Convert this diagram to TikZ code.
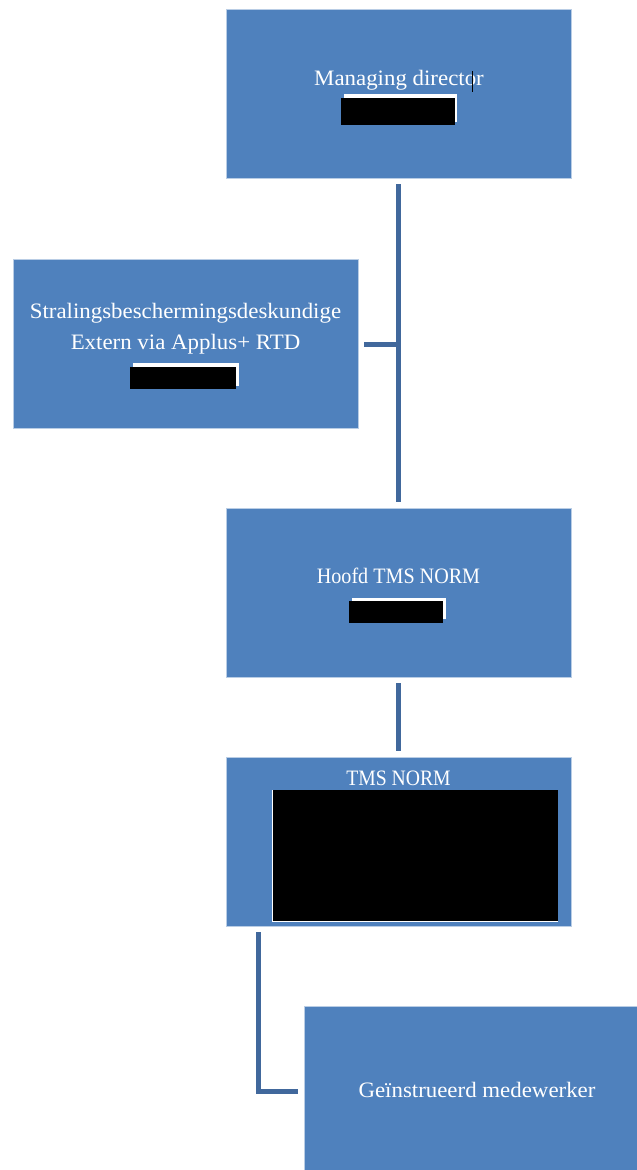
\documentclass[tikz,border=0pt]{standalone}
\usepackage{fontspec}
\setmainfont[FakeStretch=1.04]{Liberation Serif}
\definecolor{boxblue}{RGB}{79,129,189}
\definecolor{boxedge}{RGB}{185,205,229}
\definecolor{linkblue}{RGB}{65,104,156}
\tikzset{
  orgbox/.style={draw=boxedge, line width=1pt, fill=boxblue, inner sep=0pt, minimum width=345pt, minimum height=169pt},
  lbl/.style={text=white, font=\fontsize{22}{26}\selectfont, anchor=base, inner sep=0pt},
  link/.style={draw=linkblue, line width=5pt},
  redact/.style={fill=black},
  rim/.style={fill=white}
}
\begin{document}
\begin{tikzpicture}[x=1pt,y=-1pt]
\useasboundingbox (0,0) rectangle (637,1170);
\clip (0,0) rectangle (637,1170);
% boxes
\node[orgbox] (md) at (398.5,94) {};
\node[orgbox] (sbd) at (185.5,343.5) {};
\node[orgbox] (hoofd) at (398.5,592.5) {};
\node[orgbox] (tms) at (398.5,841.5) {};
\node[orgbox, minimum width=333pt] (gm) at (470.5,1090.5) {};
% texts
\node[lbl] (tmd) at (399,85) {Managing director};
\node[lbl] (ts1) at (185.5,318) {Stralingsbeschermingsdeskundige};
\node[lbl] (ts2) at (185.5,349) {Extern via Applus+ RTD};
\node[lbl] (th) at (398.5,583) {\scalebox{0.88}[1]{Hoofd TMS NORM}};
\node[lbl] (tt) at (398.5,785) {\scalebox{0.86}[1]{TMS NORM}};
\node[lbl] (tg) at (477,1097) {Geïnstrueerd medewerker};
% redactions
\fill[rim] (344,94) rectangle (457,122);
\fill[redact] (341,98) rectangle (455,125);
\draw[black, line width=1pt] (472,71) -- (472,92);
\fill[rim] (133,363) rectangle (239,386);
\fill[redact] (130,367) rectangle (236,389);
\fill[rim] (352,598) rectangle (446,619);
\fill[redact] (349,601) rectangle (443,623);
\fill[rim] (272,790) rectangle (558,922);
\fill[redact] (273,790) rectangle (558,920.5);
% connectors
\coordinate (j1) at (398,184);
\coordinate (j2) at (398,502);
\coordinate (jm) at (398,344);
\coordinate (js) at (364,344);
\draw[link] (j1) -- (j2);
\draw[link] (js) -- (jm);
\coordinate (h1) at (398,683);
\coordinate (h2) at (398,751);
\draw[link] (h1) -- (h2);
\coordinate (e1) at (258,932);
\coordinate (e2) at (298,1091);
\draw[link] (e1) |- (e2);
\end{tikzpicture}
\end{document}
